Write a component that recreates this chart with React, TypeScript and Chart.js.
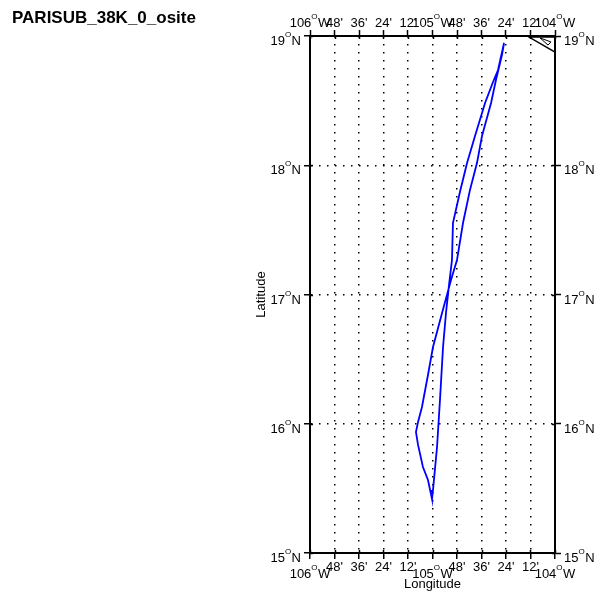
import React, { useEffect, useRef } from "react";
import { Chart, registerables } from "chart.js";
Chart.register(...registerables);

const titleText = "PARISUB_38K_0_osite";

const trackLon = [
  -104.416, -104.465, -104.506, -104.571, -104.653, -104.718, -104.776, -104.833, -104.841, -104.865,
  -104.89, -104.914, -104.939, -104.963, -104.996, -105.004, -105.037, -105.078, -105.118, -105.135,
  -105.118, -105.086, -105.037, -104.996, -104.922, -104.882, -104.849, -104.8, -104.751, -104.694,
  -104.637, -104.596, -104.522, -104.482, -104.433, -104.416,
];
const trackLat = [
  18.946, 18.737, 18.644, 18.482, 18.226, 18.017, 17.793, 17.553, 17.267, 17.074,
  16.857, 16.594, 16.184, 15.82, 15.487, 15.418, 15.565, 15.665, 15.836, 15.936,
  16.014, 16.13, 16.377, 16.594, 16.857, 16.996, 17.112, 17.267, 17.553, 17.809,
  18.017, 18.226, 18.482, 18.66, 18.853, 18.946,
];

const coastOuterLon = [-104.0, -104.212, -104.0];
const coastOuterLat = [18.876, 18.992, 18.992];
const coastInnerLon = [-104.122, -104.033, -104.057, -104.122];
const coastInnerLat = [18.985, 18.954, 18.93, 18.985];

const lonTicks = [-106, -105.8, -105.6, -105.4, -105.2, -105, -104.8, -104.6, -104.4, -104.2, -104];
const lonTickLabels = ["106°W", "48'", "36'", "24'", "12'", "105°W", "48'", "36'", "24'", "12'", "104°W"];
const latTicks = [15, 16, 17, 18, 19];
const latTickLabels = ["15°N", "16°N", "17°N", "18°N", "19°N"];

const xTitle = "Longitude";
const yTitle = "Latitude";

const FAMILY = '"Liberation Sans", Arial, Helvetica, sans-serif';
const MAIN = `13px ${FAMILY}`;
const SUP = `8px ${FAMILY}`;

function drawDeg(ctx: CanvasRenderingContext2D, text: string, x: number, base: number, align: string) {
  const parts = text.split("°");
  ctx.textBaseline = "alphabetic";
  if (parts.length < 2) {
    ctx.font = MAIN;
    ctx.textAlign = align as CanvasTextAlign;
    ctx.fillText(text, x, base);
    return;
  }
  const [a, b] = parts;
  ctx.font = MAIN;
  const wa = ctx.measureText(a).width;
  const wb = ctx.measureText(b).width;
  ctx.font = SUP;
  const ws = ctx.measureText("O").width + 0.5;
  const total = wa + ws + wb;
  const x0 = align === "center" ? x - total / 2 : align === "right" ? x - total : x;
  ctx.textAlign = "left";
  ctx.font = MAIN;
  ctx.fillText(a, x0, base);
  ctx.font = SUP;
  ctx.fillText("O", x0 + wa, base - 8);
  ctx.font = MAIN;
  ctx.fillText(b, x0 + wa + ws, base);
}

const labelPlugin = {
  id: "mapLabels",
  afterDraw(chart: any) {
    const ctx: CanvasRenderingContext2D = chart.ctx;
    const xb = chart.scales.x;
    const xt = chart.scales.x2;
    const yl = chart.scales.y;
    const yr = chart.scales.y2;
    ctx.save();
    ctx.fillStyle = "#000";
    ctx.font = `bold 17px ${FAMILY}`;
    ctx.textAlign = "left";
    ctx.textBaseline = "alphabetic";
    ctx.fillText(titleText, 12, 23);

    ctx.strokeStyle = "#000";
    ctx.lineWidth = 1.5;
    ctx.beginPath();
    lonTicks.forEach((v) => {
      const px = Math.round(xb.getPixelForValue(v)) + 0.5;
      ctx.moveTo(px, xb.top);
      ctx.lineTo(px, xb.top - 3);
      ctx.moveTo(px, xt.bottom);
      ctx.lineTo(px, xt.bottom + 3);
    });
    latTicks.forEach((v) => {
      const py = Math.round(yl.getPixelForValue(v)) + 0.5;
      ctx.moveTo(yl.right, py);
      ctx.lineTo(yl.right + 3, py);
      ctx.moveTo(yr.left, py);
      ctx.lineTo(yr.left - 3, py);
    });
    ctx.stroke();

    lonTicks.forEach((v, i) => {
      const lab = lonTickLabels[i];
      const major = lab.includes("°");
      drawDeg(ctx, lab, xt.getPixelForValue(v), xt.bottom - 9, "center");
      drawDeg(ctx, lab, xb.getPixelForValue(v), xb.top + (major ? 25 : 18), "center");
    });
    latTicks.forEach((v, i) => {
      const py = yl.getPixelForValue(v);
      drawDeg(ctx, latTickLabels[i], yl.right - 9, py + 9, "right");
      drawDeg(ctx, latTickLabels[i], yr.left + 9, py + 9, "left");
    });

    ctx.font = MAIN;
    ctx.textAlign = "center";
    ctx.fillText(xTitle, (xb.left + xb.right) / 2, xb.top + 35);
    ctx.save();
    ctx.translate(265, (yl.top + yl.bottom) / 2);
    ctx.rotate(-Math.PI / 2);
    ctx.fillText(yTitle, 0, 0);
    ctx.restore();
    ctx.restore();
  },
};

function toPts(xs: number[], ys: number[]) {
  return xs.map((x, i) => ({ x, y: ys[i] }));
}

export default function App() {
  const ref = useRef<HTMLCanvasElement>(null);
  useEffect(() => {
    if (!ref.current) return;
    const lonTickObjs = () => lonTicks.map((value) => ({ value }));
    const latTickObjs = () => latTicks.map((value) => ({ value }));
    const chart = new Chart(ref.current, {
      type: "scatter",
      data: {
        datasets: [
          {
            data: toPts(trackLon, trackLat),
            showLine: true,
            borderColor: "#0000ff",
            borderWidth: 1.8,
            pointRadius: 0,
            tension: 0,
            xAxisID: "x",
            yAxisID: "y",
          },
          {
            data: toPts(coastOuterLon, coastOuterLat),
            showLine: true,
            borderColor: "#000",
            borderWidth: 1.5,
            pointRadius: 0,
            xAxisID: "x",
            yAxisID: "y",
          },
          {
            data: toPts(coastInnerLon, coastInnerLat),
            showLine: true,
            borderColor: "#000",
            borderWidth: 1,
            pointRadius: 0,
            xAxisID: "x",
            yAxisID: "y",
          },
        ],
      },
      options: {
        responsive: false,
        devicePixelRatio: 1,
        animation: false,
        layout: { padding: 0 },
        plugins: { legend: { display: false }, tooltip: { enabled: false }, title: { display: false } },
        scales: {
          x: {
            type: "linear",
            position: "bottom",
            min: -106,
            max: -104,
            afterBuildTicks: (s: any) => { s.ticks = lonTickObjs(); },
            afterFit: (s: any) => { s.height = 39; },
            ticks: { display: false },
            grid: { display: true, drawOnChartArea: true, color: "#000", lineWidth: 1.5, tickLength: 6, tickColor: "#000", tickWidth: 1.5 },
            border: { display: true, color: "#000", width: 2, dash: [1.5, 6.5] },
          },
          x2: {
            type: "linear",
            position: "top",
            min: -106,
            max: -104,
            afterBuildTicks: (s: any) => { s.ticks = lonTickObjs(); },
            afterFit: (s: any) => { s.height = 36; },
            ticks: { display: false },
            grid: { display: true, drawOnChartArea: false, color: "#000", tickLength: 6, tickColor: "#000", tickWidth: 1.5 },
            border: { display: true, color: "#000", width: 2 },
          },
          y: {
            type: "linear",
            position: "left",
            min: 15,
            max: 19,
            afterBuildTicks: (s: any) => { s.ticks = latTickObjs(); },
            afterFit: (s: any) => { s.width = 310; },
            ticks: { display: false },
            grid: { display: true, drawOnChartArea: true, color: "#000", lineWidth: 1.5, tickLength: 6, tickColor: "#000", tickWidth: 1.5 },
            border: { display: true, color: "#000", width: 2, dash: [1.5, 6.5] },
          },
          y2: {
            type: "linear",
            position: "right",
            min: 15,
            max: 19,
            afterBuildTicks: (s: any) => { s.ticks = latTickObjs(); },
            afterFit: (s: any) => { s.width = 46; },
            ticks: { display: false },
            grid: { display: true, drawOnChartArea: false, color: "#000", tickLength: 6, tickColor: "#000", tickWidth: 1.5 },
            border: { display: true, color: "#000", width: 2 },
          },
        },
      } as any,
      plugins: [labelPlugin],
    });
    return () => chart.destroy();
  }, []);
  return (
    <div style={{ position: "absolute", left: 0, top: 0, width: 601, height: 592, background: "#fff" }}>
      <canvas ref={ref} width={601} height={592} style={{ width: 601, height: 592, display: "block" }} />
    </div>
  );
}
